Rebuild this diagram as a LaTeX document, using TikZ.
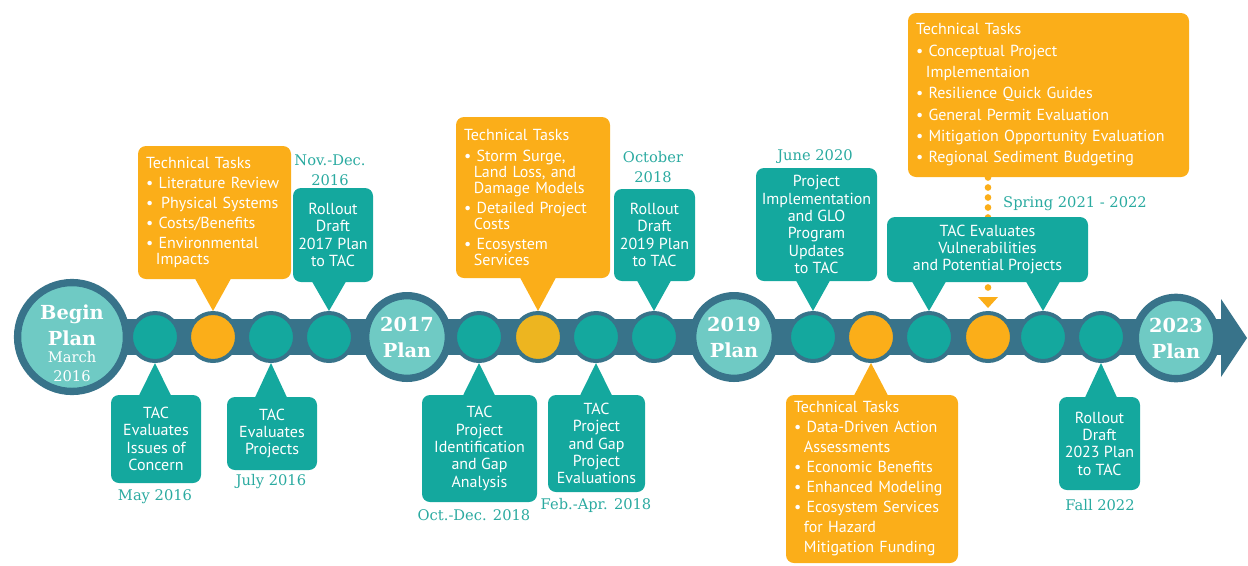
\documentclass[tikz,border=0pt]{standalone}
\usepackage{fontspec}
\setmainfont{PT Sans}
\newfontfamily\slabfont{DejaVu Serif}
\usetikzlibrary{calc}

\definecolor{barcol}{RGB}{56,115,138}
\definecolor{lightcol}{RGB}{111,202,196}
\definecolor{tealcol}{RGB}{20,168,158}
\definecolor{orngcol}{RGB}{251,174,25}
\definecolor{goldcol}{RGB}{237,181,32}
\definecolor{datecol}{RGB}{42,170,160}

\newcommand{\plantxt}{\slabfont\bfseries\fontsize{14.5}{19.5}\selectfont}
\newcommand{\monthtxt}{\slabfont\mdseries\fontsize{11}{14}\selectfont}
\newcommand{\cont}{\hspace*{0.62em}}

\tikzset{every picture/.style={line width=0.75pt}}
\tikzset{
  plancirc/.style={circle, fill=lightcol, draw=barcol, line width=5.5pt, inner sep=0pt, text=white, align=center, font=\plantxt},
  stopc/.style={circle, fill=tealcol, draw=barcol, line width=3pt, minimum size=36pt, inner sep=0pt},
  tealbox/.style={fill=tealcol, rounded corners=6pt, text=white, align=center, inner sep=2pt, font=\fontsize{12}{13}\selectfont},
  orangebox/.style={fill=orngcol, rounded corners=6pt, text=white, align=left, inner xsep=6pt, inner ysep=0pt, font=\fontsize{12}{15}\selectfont},
  datelbl/.style={text=datecol, align=center, inner sep=0.75pt, font=\slabfont\fontsize{11}{15}\selectfont}
}

\begin{document}
\begin{tikzpicture}[x=0.75pt,y=0.75pt,yscale=-1,xscale=1]
\useasboundingbox (0,0) rectangle (1248,565);

%Shape: Rectangle [timeline bar]
\fill[barcol] (60,319) rectangle (1226,355);
%Shape: Triangle [arrow head]
\fill[barcol] (1221,299) -- (1247,338) -- (1221,377) -- cycle;

%Shape: Circle [plans]
\node[plancirc, minimum size=80pt] (begin) at (72,337) {\rule{0pt}{20pt}Begin\\Plan\\[-6.75pt]\monthtxt March\\[-5.25pt]\monthtxt 2016};
\node[plancirc, minimum size=62pt] (p17) at (407,337) {2017\\Plan};
\node[plancirc, minimum size=62pt] (p19) at (734,337) {2019\\Plan};
\node[plancirc, minimum size=61pt] (p23) at (1176,338) {2023\\Plan};

%Shape: Circle [stops]
\node[stopc] (m1) at (155,337) {};
\node[stopc, fill=orngcol] (m2) at (213,337) {};
\node[stopc] (m3) at (271,337) {};
\node[stopc] (m4) at (329,337) {};
\node[stopc] (m5) at (479,337) {};
\node[stopc, fill=goldcol] (m6) at (538,337) {};
\node[stopc] (m7) at (596,337) {};
\node[stopc] (m8) at (654,337) {};
\node[stopc] (m9) at (813,337) {};
\node[stopc, fill=orngcol] (m10) at (871,337) {};
\node[stopc] (m11) at (929,337) {};
\node[stopc, fill=orngcol] (m12) at (988,337) {};
\node[stopc] (m13) at (1043,337) {};
\node[stopc] (m14) at (1101,337) {};

% Text Node [top right tasks]
\node[orangebox, text width=198.75pt, minimum height=123pt, font=\fontsize{12}{16}\selectfont] (tasks4) at (1048.5,95) {Technical Tasks\\
\textbullet\ Conceptual Project\\
\cont Implementaion\\
\textbullet\ Resilience Quick Guides\\
\textbullet\ General Permit Evaluation\\
\textbullet\ Mitigation Opportunity Evaluation\\
\textbullet\ Regional Sediment Budgeting};

%Dotted Lines [tasks to stop]
\draw[orngcol, line width=5pt, line cap=round, dash pattern=on 0pt off 7.5pt] (tasks4.south -| m12.north) -- ($(m12.north)+(0,-22)$);
\fill[orngcol] ($(m12.north)+(-10,-14)$) -- ($(m12.north)+(10,-14)$) -- ($(m12.north)+(0,-3)$) -- cycle;

% Text Node [above the bar]
\node[orangebox, text width=102.75pt, minimum height=99.75pt] (tasks1) at (214.5,212.5) {Technical Tasks\\
\textbullet\ Literature Review\\
\textbullet\ \,Physical Systems\\
\textbullet\ Costs/Benefits\\
\textbullet\ Environmental\\[-3.5pt]
\cont Impacts};
\node[tealbox, minimum width=60pt, minimum height=70.5pt] (draft17) at (333,235) {Rollout\\Draft\\2017 Plan\\to TAC};
\node[orangebox, text width=103.5pt, minimum height=120.75pt] (tasks2) at (533,197.5) {Technical Tasks\\[1pt]
\textbullet\ Storm Surge,\\[-3pt]
\cont Land Loss, and\\[-3pt]
\cont Damage Models\\
\textbullet\ Detailed Project\\[-3pt]
\cont Costs\\
\textbullet\ Ecosystem\\[-3pt]
\cont Services};
\node[tealbox, minimum width=60.75pt, minimum height=69pt] (draft19) at (654.5,235) {Rollout\\Draft\\2019 Plan\\to TAC};
\node[tealbox, minimum width=90.75pt, minimum height=84.75pt] (glo) at (816.5,224.5) {Project\\Implementation\\and GLO\\Program\\Updates\\to TAC};
\node[tealbox, minimum width=150.75pt, minimum height=48.75pt] (vuln) at (987.5,249.5) {TAC Evaluates\\Vulnerabilities\\and Potential Projects};

% Text Node [below the bar]
\node[tealbox, minimum width=67.5pt, minimum height=66pt] (issues) at (156,439) {TAC\\Evaluates\\Issues of\\Concern};
\node[tealbox, minimum width=67.5pt, minimum height=54.75pt] (evalproj) at (272,433.5) {TAC\\Evaluates\\Projects};
\node[tealbox, minimum width=86.25pt, minimum height=80.25pt] (ident) at (479.5,448.5) {TAC\\Project\\Identification\\and Gap\\Analysis};
\node[tealbox, minimum width=72.75pt, minimum height=72.75pt] (gapeval) at (596.5,443.5) {TAC\\Project\\and Gap\\Project\\Evaluations};
\node[orangebox, text width=117pt, minimum height=126pt] (tasks3) at (872,479) {Technical Tasks\\
\textbullet\ Data-Driven Action\\
\cont Assessments\\
\textbullet\ Economic Benefits\\
\textbullet\ Enhanced Modeling\\
\textbullet\ Ecosystem Services\\
\cont for Hazard\\
\cont Mitigation Funding};
\node[tealbox, minimum width=60.75pt, minimum height=69.75pt] (draft23) at (1099.5,443.5) {Rollout\\Draft\\2023 Plan\\to TAC};

%Shape: Triangle [pointers up]
\fill[orngcol] (m2.north) -- ($(m2.north |- tasks1.south)+(-18,-1)$) -- ($(m2.north |- tasks1.south)+(18,-1)$) -- cycle;
\fill[tealcol] (m4.north) -- ($(m4.north |- draft17.south)+(-17,-1)$) -- ($(m4.north |- draft17.south)+(17,-1)$) -- cycle;
\fill[orngcol] (m6.north) -- ($(m6.north |- tasks2.south)+(-18,-1)$) -- ($(m6.north |- tasks2.south)+(18,-1)$) -- cycle;
\fill[tealcol] (m8.north) -- ($(m8.north |- draft19.south)+(-17,-1)$) -- ($(m8.north |- draft19.south)+(17,-1)$) -- cycle;
\fill[tealcol] (m9.north) -- ($(m9.north |- glo.south)+(-17,-1)$) -- ($(m9.north |- glo.south)+(17,-1)$) -- cycle;
\fill[tealcol] (m11.north) -- ($(m11.north |- vuln.south)+(-17,-1)$) -- ($(m11.north |- vuln.south)+(17,-1)$) -- cycle;
\fill[tealcol] (m13.north) -- ($(m13.north |- vuln.south)+(-17,-1)$) -- ($(m13.north |- vuln.south)+(17,-1)$) -- cycle;
%Shape: Triangle [pointers down]
\fill[tealcol] (m1.south) -- ($(m1.south |- issues.north)+(-16,1)$) -- ($(m1.south |- issues.north)+(16,1)$) -- cycle;
\fill[tealcol] (m3.south) -- ($(m3.south |- evalproj.north)+(-16,1)$) -- ($(m3.south |- evalproj.north)+(16,1)$) -- cycle;
\fill[tealcol] (m5.south) -- ($(m5.south |- ident.north)+(-16,1)$) -- ($(m5.south |- ident.north)+(16,1)$) -- cycle;
\fill[tealcol] (m7.south) -- ($(m7.south |- gapeval.north)+(-16,1)$) -- ($(m7.south |- gapeval.north)+(16,1)$) -- cycle;
\fill[orngcol] (m10.south) -- ($(m10.south |- tasks3.north)+(-17,1)$) -- ($(m10.south |- tasks3.north)+(17,1)$) -- cycle;
\fill[tealcol] (m14.south) -- ($(m14.south |- draft23.north)+(-16,1)$) -- ($(m14.south |- draft23.north)+(16,1)$) -- cycle;

% Text Node [dates]
\node[datelbl] (dnov) at (330,170) {Nov.-Dec.\\2016};
\node[datelbl] (doct) at (653,167) {October\\2018};
\node[datelbl] (djune) at (815,157) {June 2020};
\node[datelbl] (dspring) at (1075,204) {Spring 2021 - 2022};
\node[datelbl] (dmay) at (155,497) {May 2016};
\node[datelbl] (djuly) at (271,482) {July 2016};
\node[datelbl] (doctdec) at (474,515) {Oct.-Dec. 2018};
\node[datelbl] (dfeb) at (596,505) {Feb.-Apr. 2018};
\node[datelbl] (dfall) at (1100,505) {Fall 2022};

\end{tikzpicture}
\end{document}
